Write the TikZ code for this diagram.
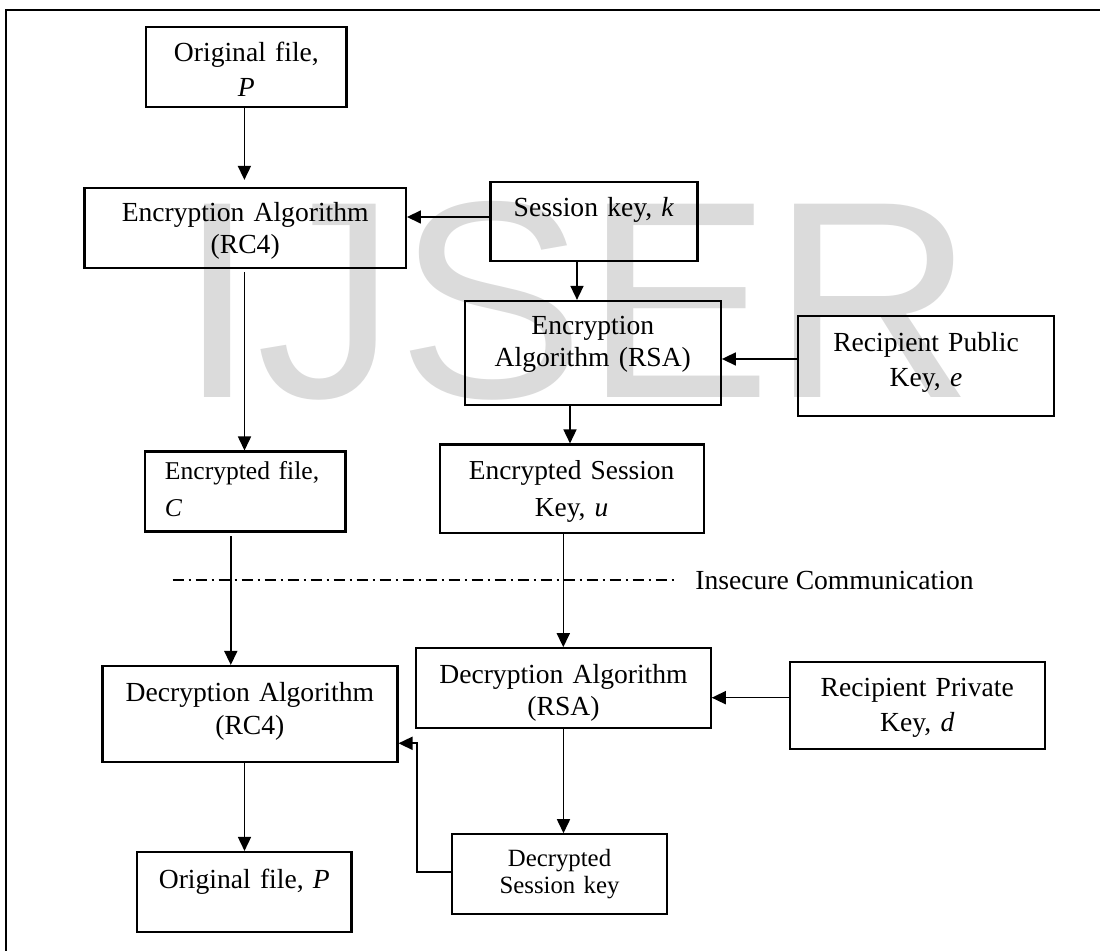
\documentclass[tikz,border=0pt]{standalone}
\usepackage{fontspec}
\setmainfont{Liberation Serif}
\newfontfamily\wmfont{Liberation Sans}
\usetikzlibrary{arrows.meta}

\begin{document}
\begin{tikzpicture}[x=0.5pt,y=-0.5pt,
  box/.style={draw, line width=1.1pt, inner sep=0pt, align=center,
    text height=0pt, text depth=0pt, font=\fontsize{13.8}{17}\selectfont},
  arr/.style={line width=0.8pt, -{Triangle[length=7pt,width=6.5pt]}},
  insecure/.style={line width=0.6pt, dash pattern=on 5.5pt off 2.5pt on 1pt off 2.5pt},
  frameline/.style={line width=1pt},
  mainfont/.style={font=\fontsize{13.8}{17}\selectfont}]

\useasboundingbox (0,0) rectangle (1100,951);

% watermark behind everything
\node[anchor=base west, inner sep=0pt, text=black!14,
  font=\wmfont\fontsize{140.5}{140.5}\selectfont] (mark) at (178,398) {IJSER};

% frame (top and left edges)
\draw[frameline] (6,951) -- (6,10) -- (1100,10);

% sender side
\node[box, text width=100.1pt, minimum height=40pt, text depth=5pt,
  font=\fontsize{13.8}{17.5}\selectfont] (orig) at (246.4,67) {Original file,\\\textit{P}};
\node[box, text width=160.65pt, minimum height=40pt, text depth=6pt,
  font=\fontsize{13.8}{16}\selectfont] (encrc4) at (245.2,228) {Encryption Algorithm\\(RC4)};
\node[box, text width=103.5pt, minimum height=39.5pt, text depth=4.8pt] (skey) at (593.9,221.5) {Session key, \textit{k}};
\node[box, text width=128pt, minimum height=52pt, text depth=18pt,
  font=\fontsize{13.8}{16}\selectfont] (encrsa) at (592.8,353) {Encryption\\Algorithm (RSA)};
\node[box, text width=128pt, minimum height=50pt, text depth=14.3pt,
  font=\fontsize{13.8}{17.5}\selectfont] (pubkey) at (926,366) {Recipient Public\\Key, \textit{e}};
\node[box, align=left, inner xsep=10pt, text width=80.25pt, minimum height=40pt, text depth=11.6pt,
  font=\fontsize{12.8}{18.5}\selectfont] (encfile) at (245.2,491.6) {Encrypted file,\\\textit{C}};
\node[box, text width=132pt, minimum height=44.25pt, text depth=8.8pt,
  font=\fontsize{13.7}{18.5}\selectfont] (esk) at (571.6,488.8) {Encrypted Session\\Key, \textit{u}};

% insecure channel
\coordinate (insL) at (172.6,580);
\coordinate (insR) at (676.3,580);
\draw[insecure] (insL) -- (insR);
\node[anchor=base west, inner sep=0pt, mainfont] (chan) at (695,590) {Insecure Communication};

% receiver side
\node[box, text width=147.5pt, minimum height=47.85pt, text depth=12.2pt,
  font=\fontsize{13.8}{16.5}\selectfont] (decrc4) at (249.9,713.9) {Decryption Algorithm\\(RC4)};
\node[box, text width=147.15pt, minimum height=40pt, text depth=5pt,
  font=\fontsize{13.8}{16}\selectfont] (decrsa) at (563.5,688.3) {Decryption Algorithm\\(RSA)};
\node[box, text width=127.7pt, minimum height=43.5pt, text depth=8.5pt,
  font=\fontsize{13.8}{17.5}\selectfont] (privkey) at (917.3,705.2) {Recipient Private\\Key, \textit{d}};
\node[box, text width=107.2pt, minimum height=40.15pt, text depth=3.9pt] (origout) at (244.3,892.2) {Original file, \textit{P}};
\node[box, text width=107.2pt, minimum height=39.85pt, text depth=7.5pt,
  font=\fontsize{12.4}{13.6}\selectfont] (dsk) at (559.5,874.2) {Decrypted\\Session key};

% connectors
\draw[arr, shorten >=3.5pt] ([xshift=-1pt]orig.south) -- ([xshift=-1pt]orig.south |- encrc4.north);
\draw[arr] ([yshift=2.25pt]skey.west) -- ([yshift=2.25pt]skey.west -| encrc4.east);
\draw[arr, shorten <=1.5pt] ([xshift=-0.35pt]encrc4.south) -- ([xshift=-0.35pt]encrc4.south |- encfile.north);
\draw[arr] ([xshift=-8.45pt]skey.south) -- ([xshift=-8.45pt]skey.south |- encrsa.north);
\draw[arr] ([yshift=3.5pt]pubkey.west) -- ([yshift=3.5pt]pubkey.west -| encrsa.east);
\draw[arr] ([xshift=-11.4pt]encrsa.south) -- ([xshift=-11.4pt]encrsa.south |- esk.north);
\draw[arr, shorten <=1.75pt] ([xshift=-7.2pt]encfile.south) -- ([xshift=-7.2pt]encfile.south |- decrc4.north);
\draw[arr] ([xshift=-4.15pt]esk.south) -- ([xshift=-4.15pt]esk.south |- decrsa.north);
\draw[arr] ([yshift=3.75pt]privkey.west) -- ([yshift=3.75pt]privkey.west -| decrsa.east);
\draw[arr] (decrsa.south) -- (decrsa.south |- dsk.north);
\coordinate (bend) at (416.7,743.3);
\draw[arr] ([yshift=1.1pt]dsk.west) -| (bend) -- (bend -| decrc4.east);
\draw[arr] ([xshift=-2.7pt]decrc4.south) -- ([xshift=-2.7pt]decrc4.south |- origout.north);

\end{tikzpicture}
\end{document}
